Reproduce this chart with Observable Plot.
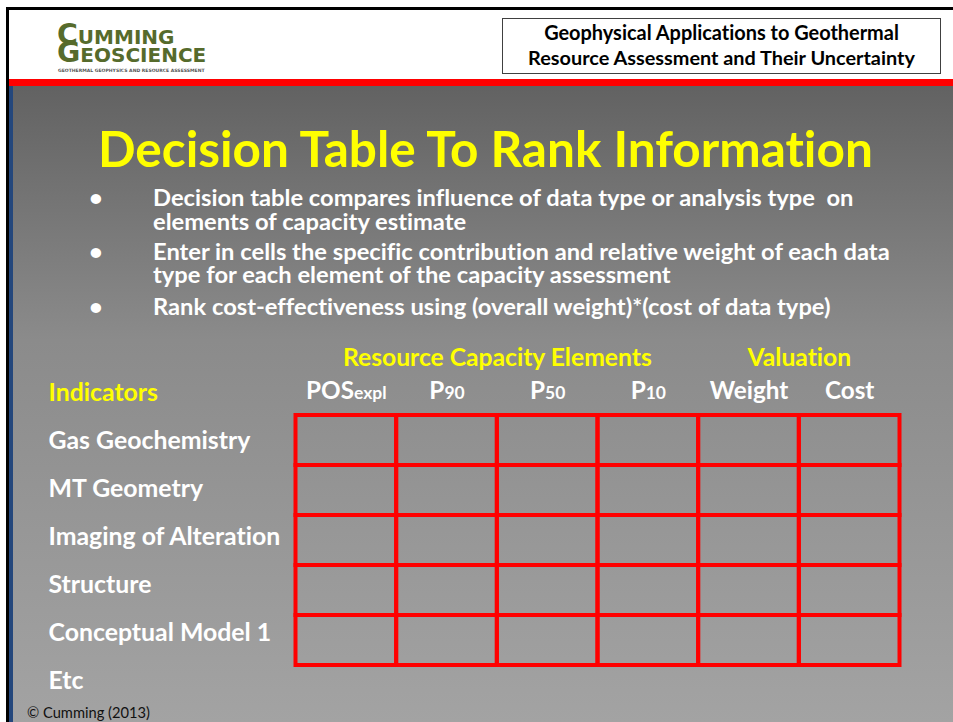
<!DOCTYPE html>
<html>
<head>
<meta charset="utf-8">
<script src="https://cdn.jsdelivr.net/npm/d3@7"></script>
<script src="https://cdn.jsdelivr.net/npm/@observablehq/plot@0.6"></script>
<style>
  html, body { margin: 0; padding: 0; background: #fff; }
  #slide { position: relative; width: 953px; height: 722px; overflow: hidden; background: #fff; font-family: Lato, "Open Sans", sans-serif; font-variant-ligatures: none; }
  .abs { position: absolute; }
  .txt { position: absolute; white-space: pre; line-height: 1; font-variant-ligatures: none; }
  svg text { font-variant-ligatures: none; }
</style>
</head>
<body>
<div id="slide">
  <div class="abs" style="left:6px;top:7px;width:947px;height:3px;background:#000"></div>
  <div class="abs" style="left:6px;top:7px;width:3px;height:715px;background:#000"></div>
  <div class="abs" style="left:9px;top:79px;width:944px;height:7px;background:#ff0000"></div>
  <div class="abs" style="left:9px;top:86px;width:4px;height:636px;background:#24477c"></div>
  <div class="abs" style="left:13px;top:86px;width:940px;height:636px;background:linear-gradient(to bottom,#626262 0%,#8b8b8b 40%,#a3a3a3 100%)"></div>
  <div class="abs" style="left:502px;top:18px;width:439px;height:56px;box-sizing:border-box;border:1px solid #404040;background:#fff"></div>
  <div id="texts"></div>
  <div id="plots"></div>
</div>
<script>
// ---------- data ----------
const indicatorHeader = "Indicators";
const indicators = ["Gas Geochemistry", "MT Geometry", "Imaging of Alteration", "Structure", "Conceptual Model 1"];
const moreLabel = "Etc";
const columnNames = ["POS", "P", "P", "P", "Weight", "Cost"];
const columnSubs = ["expl", "90", "50", "10", "", ""];
const groupNames = ["Resource Capacity Elements", "Valuation"];
const groupSpans = [4, 2];
const bulletLines = [
  ["Decision table compares influence of data type or analysis type  on", "elements of capacity estimate"],
  ["Enter in cells the specific contribution and relative weight of each data", "type for each element of the capacity assessment"],
  ["Rank cost-effectiveness using (overall weight)*(cost of data type)"]
];
const titleText = "Decision Table To Rank Information";
const headerLines = ["Geophysical Applications to Geothermal", "Resource Assessment and Their Uncertainty"];
const logoLines = ["Cumming", "Geoscience"];
const logoTagline = "GEOTHERMAL GEOPHYSICS AND RESOURCE ASSESSMENT";
const footerText = "\u00A9 Cumming (2013)";

const YELLOW = "#ffff00", WHITE = "#ffffff", RED = "#ff0000";

// ---------- slide text (HTML) ----------
const textsDiv = document.getElementById("texts");
// base = baseline of the LAST line of the element
function addText(txt, o) {
  const el = document.createElement("div");
  el.className = "txt";
  el.textContent = txt;
  el.style.fontSize = o.size + "px";
  el.style.fontWeight = o.weight || 700;
  el.style.color = o.color;
  if (o.font) el.style.fontFamily = o.font;
  if (o.lh) el.style.lineHeight = o.lh;
  if (o.variant) el.style.fontVariant = o.variant;
  el.style.left = "0px"; el.style.top = "0px";
  textsDiv.appendChild(el);
  if (o.w) {
    const w0 = el.getBoundingClientRect().width;
    el.style.fontSize = (o.size * o.w / w0) + "px";
  }
  const m = document.createElement("span");
  m.style.cssText = "display:inline-block;width:0;height:0;vertical-align:baseline";
  el.appendChild(m);
  const off = m.getBoundingClientRect().top - el.getBoundingClientRect().top;
  m.remove();
  const w = el.getBoundingClientRect().width;
  const left = o.cx != null ? o.cx - w / 2 : o.x;
  el.style.left = left + "px";
  el.style.top = (o.base - off) + "px";
  return parseFloat(el.style.fontSize);
}

// logo
const LOGO = "#566b2c";
const LOGO_FONT = "'DejaVu Sans', sans-serif";
addText(logoLines.join("\n"), {x: 57, base: 62, w: 148, size: 23, color: LOGO, font: LOGO_FONT, lh: "18px", variant: "small-caps"});
addText(logoTagline, {x: 58, base: 72, w: 147, size: 5, color: "#555", font: LOGO_FONT, lh: "6px"});

// header box
addText(headerLines[0], {cx: 721.5, base: 40, w: 355, size: 17, color: "#000"});
addText(headerLines[1], {cx: 721.5, base: 65, w: 387, size: 17, color: "#000"});

// title
addText(titleText, {x: 98, base: 167, w: 775, size: 44, color: YELLOW});

// bullets (one text block per bullet)
const bulletFirstBase = [206, 260, 315];
const bulletLastBase = [230, 283, 315];
const bulletW = [737, 737, 737];
// size fitted from the longest line (second bullet)
const probe = document.createElement("div");
probe.className = "txt"; probe.style.fontSize = "20px"; probe.style.fontWeight = 700;
probe.textContent = bulletLines[1][0];
textsDiv.appendChild(probe);
const bulletSize = 20 * 737 / probe.getBoundingClientRect().width;
probe.remove();
bulletLines.forEach((lines, b) => {
  const gap = lines.length > 1 ? (bulletLastBase[b] - bulletFirstBase[b]) + "px" : "1";
  addText(lines.join("\n"), {x: 153, base: bulletLastBase[b], size: bulletSize, color: WHITE, lh: gap});
  addText("\u2022", {x: 89, base: bulletFirstBase[b], size: bulletSize, color: WHITE, lh: "1"});
});

// footer
addText(footerText, {x: 27, base: 718, w: 123, size: 15, weight: 400, color: "#111"});

// ---------- table (Observable Plot) ----------
const cols = columnNames.map((m, i) => m + columnSubs[i]);
const cells = indicators.flatMap(r => cols.map((c, i) => ({row: r, col: c, i})));
const groupMid = [];
groupSpans.reduce((s, n) => { groupMid.push(s + n / 2); return s + n; }, 0);

const plotStyle = {background: "transparent", fontFamily: "Lato, 'Open Sans', sans-serif", overflow: "visible", position: "absolute", left: "0px", top: "0px", maxWidth: "none"};

const table = Plot.plot({
  width: 953, height: 722,
  marginLeft: 295.5, marginRight: 53.5, marginTop: 413.5, marginBottom: 56,
  style: plotStyle,
  x: {type: "linear", domain: [0, cols.length], label: null},
  y: {type: "band", domain: indicators, padding: 0, axis: null, label: null},
  marks: [
    Plot.barX(cells, {x1: d => d.i, x2: d => d.i + 1, y: "row", fill: "none", stroke: RED, strokeWidth: 4}),
    Plot.axisX({anchor: "top", ticks: cols.map((c, i) => i + 0.5), tickFormat: v => cols[Math.floor(v)], tickSize: 0, tickPadding: 15.5, fontSize: 23, fontWeight: "bold", color: WHITE, label: null}),
    Plot.axisX({anchor: "top", ticks: groupMid, tickFormat: v => groupNames[groupMid.indexOf(v)], tickSize: 0, tickPadding: 48.5, fontSize: 22, fontWeight: "bold", color: YELLOW, label: null})
  ]
});

const labels = Plot.plot({
  width: 953, height: 722,
  marginLeft: 48, marginRight: 0, marginTop: 369, marginBottom: 17,
  style: plotStyle,
  y: {type: "band", domain: [indicatorHeader, ...indicators, moreLabel], padding: 0, axis: null},
  marks: [
    Plot.text([indicatorHeader], {y: d => d, text: d => d, frameAnchor: "left", textAnchor: "start", fill: YELLOW, fontSize: 22, fontWeight: "bold"}),
    Plot.text([...indicators, moreLabel], {y: d => d, text: d => d, frameAnchor: "left", textAnchor: "start", fill: WHITE, fontSize: 22, fontWeight: "bold"})
  ]
});

const plots = document.getElementById("plots");
plots.appendChild(labels);
plots.appendChild(table);

// fit font sizes to reference widths
const tickTexts = d3.select(table).selectAll("text").nodes();
const colTexts = tickTexts.filter(t => cols.includes(t.textContent));
const grpTexts = tickTexts.filter(t => groupNames.includes(t.textContent));
function fitNodes(nodes, refText, target) {
  const ref = nodes.find(n => n.textContent === refText);
  const fs = parseFloat(getComputedStyle(ref).fontSize);
  const nfs = fs * target / ref.getBBox().width;
  nodes.forEach(n => { n.style.fontSize = nfs + "px"; n.style.fontWeight = "bold"; });
}
fitNodes(colTexts, "Weight", 79);
fitNodes(grpTexts, groupNames[0], 309);
const labTexts = d3.select(labels).selectAll("text").nodes();
fitNodes(labTexts, "Imaging of Alteration", 232);

// subscripts on column headers
colTexts.forEach(t => {
  const i = cols.indexOf(t.textContent);
  if (!columnSubs[i]) return;
  t.textContent = columnNames[i];
  d3.select(t).append("tspan").attr("font-size", "0.72em").attr("dy", "0.04em").text(columnSubs[i]);
});
</script>
</body>
</html>
